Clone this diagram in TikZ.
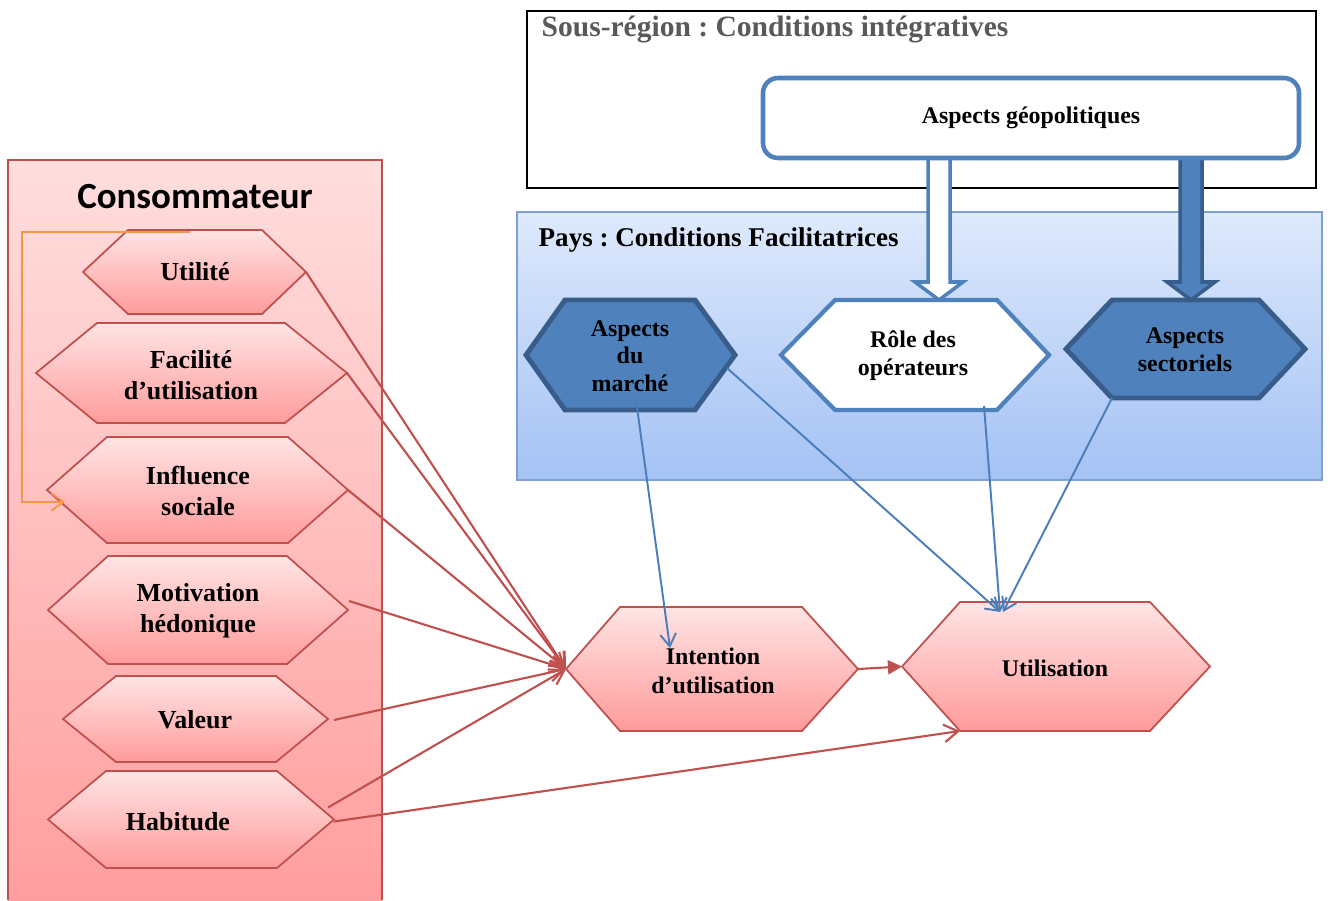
\documentclass[tikz,border=0pt]{standalone}
\usepackage{fontspec}
\setmainfont{Liberation Serif}
\newfontfamily\calfont{Carlito}
\usetikzlibrary{arrows.meta, calc}
\frenchspacing

\definecolor{RedLine}{RGB}{192,80,77}
\definecolor{PinkTop}{RGB}{255,228,228}
\definecolor{PinkBot}{RGB}{255,155,155}
\definecolor{BoxTop}{RGB}{255,222,222}
\definecolor{BoxBot}{RGB}{255,158,158}
\definecolor{BlueFill}{RGB}{79,129,189}
\definecolor{BlueDark}{RGB}{56,93,138}
\definecolor{BlueLine}{RGB}{74,126,187}
\definecolor{PaysTop}{RGB}{222,233,252}
\definecolor{PaysBot}{RGB}{164,194,244}
\definecolor{PaysEdge}{RGB}{126,161,211}
\definecolor{OrangeLine}{RGB}{247,150,70}
\definecolor{TitleGray}{RGB}{89,89,89}

% hexagon: style, name, left x, top-left x, top-right x, right x, top y, bottom y
\newcommand{\Hexa}[8]{%
  \path[#1] (#3,{(#7+#8)/2}) -- (#4,#7) -- (#5,#7) -- (#6,{(#7+#8)/2}) -- (#5,#8) -- (#4,#8) -- cycle;
  \coordinate (#2-w) at (#3,{(#7+#8)/2});
  \coordinate (#2-e) at (#6,{(#7+#8)/2});
  \coordinate (#2-nw) at (#4,#7);
  \coordinate (#2-ne) at (#5,#7);
  \coordinate (#2-sw) at (#4,#8);
  \coordinate (#2-se) at (#5,#8);
  \coordinate (#2-n) at ({(#4+#5)/2},#7);
  \coordinate (#2-s) at ({(#4+#5)/2},#8);
}

\tikzset{
  pinkhex/.style={draw=RedLine, line width=0.5pt, top color=PinkTop, bottom color=PinkBot},
  bluehex/.style={draw=BlueDark, line width=1.4pt, fill=BlueFill},
  whitehex/.style={draw=BlueFill, line width=1.2pt, fill=white},
  lbl/.style={font=\bfseries\fontsize{7.4}{8.8}\selectfont, align=center, inner sep=0pt},
  lbls/.style={font=\bfseries\fontsize{6.8}{8}\selectfont, align=center, inner sep=0pt},
  boxtitle/.style={font=\bfseries\fontsize{7.7}{9}\selectfont, anchor=west, inner sep=0pt},
  redarrow/.style={draw=RedLine, line width=0.6pt, -{Straight Barb[length=4pt,width=5pt]}},
  bluearrow/.style={draw=BlueLine, line width=0.55pt, -{Straight Barb[length=3.5pt,width=4.5pt]}},
}

\begin{document}
\begin{tikzpicture}[x=0.1mm, y=-0.1mm]
    \useasboundingbox (0,0) rectangle (1330,900);

    % Consommateur
    \fill[top color=BoxTop, bottom color=BoxBot] (8,160) rectangle (382,900);
    \draw[RedLine, line width=0.6pt] (8,900) -- (8,160) -- (382,160) -- (382,900);
    \node[font=\calfont\bfseries\fontsize{10.5}{12}\selectfont, inner sep=0pt] (cons) at (195,197) {Consommateur};

    \Hexa{pinkhex}{util}{83}{128}{262}{306}{230}{314}
    \Hexa{pinkhex}{fac}{36}{97}{285}{347}{323}{423}
    \Hexa{pinkhex}{infl}{47}{107}{288}{348}{437}{543}
    \Hexa{pinkhex}{mot}{48}{108}{287}{348}{556}{664}
    \Hexa{pinkhex}{val}{63}{116}{276}{328}{676}{762}
    \Hexa{pinkhex}{hab}{48}{106}{277}{334}{771}{868}
    \node[lbl] (utilite) at (195,272) {Utilité};
    \node[lbl] (facilite) at (191,375) {Facilité\\d’utilisation};
    \node[lbl] (influence) at (198,491) {Influence\\sociale};
    \node[lbl] (motivation) at (198,611) {Motivation\\hédonique};
    \node[lbl] (valeur) at (195,720) {Valeur};
    \node[lbl] (habitude) at (178,822) {Habitude};

    % Sous-region
    \draw[black, line width=0.6pt] (527,11) rectangle (1316,188);
    \node[boxtitle, font=\bfseries\fontsize{8.4}{10}\selectfont, text=TitleGray] (sregion) at (541,30) {Sous-région : Conditions intégratives};

    % Pays
    \draw[PaysEdge, line width=0.6pt, top color=PaysTop, bottom color=PaysBot] (517,212) rectangle (1322,480);
    \node[boxtitle] (pays) at (538,240) {Pays : Conditions Facilitatrices};

    \draw[BlueFill, line width=1pt, fill=white] (928,150) -- (928,282) -- (915,282) -- (939,300) -- (963,282) -- (950,282) -- (950,150) -- cycle;
    \draw[BlueDark, line width=1pt, fill=BlueFill] (1180,150) -- (1180,282) -- (1167,282) -- (1191,300) -- (1215,282) -- (1202,282) -- (1202,150) -- cycle;
    \node[draw=BlueFill, line width=1.3pt, fill=white, rounded corners=0.15cm,
          minimum width=5.36cm, minimum height=0.8cm, lbls] (geo) at (1031,118) {Aspects géopolitiques};

    \Hexa{bluehex}{marche}{526}{565}{695}{735}{300}{410}
    \Hexa{whitehex}{role}{781}{835}{997}{1049}{300}{410}
    \Hexa{bluehex}{sect}{1066}{1112}{1259}{1305}{300}{398}
    \node[lbls, font=\bfseries\fontsize{6.8}{7.8}\selectfont] (marchelbl) at (630,356) {Aspects\\du\\marché};
    \node[lbls] (rolelbl) at (913,356) {Rôle des\\opérateurs};
    \node[lbls] (sectlbl) at (1185,350) {Aspects\\sectoriels};

    % Intention / Utilisation
    \Hexa{pinkhex}{int}{566}{620}{802}{858}{607}{731}
    \Hexa{pinkhex}{use}{902}{960}{1150}{1210}{602}{731}
    \node[lbls, font=\bfseries\fontsize{6.8}{8.2}\selectfont] (intention) at (713,671) {Intention\\d’utilisation};
    \node[lbls] (utilisation) at (1055,668) {Utilisation};

    \draw[redarrow] (util-e) -- (int-w);
    \draw[redarrow] (fac-e) -- (int-w);
    \draw[redarrow] (infl-e) -- (int-w);
    \draw[redarrow] ($(mot-e)+(1,-9)$) -- (int-w);
    \draw[redarrow] ($(val-e)+(6,1)$) -- (int-w);
    \draw[redarrow] ($(hab-e)+(-6,-12)$) -- (int-w);
    \draw[redarrow] ($(hab-e)+(0,2)$) -- (use-sw);
    \draw[RedLine, line width=0.6pt, -{Triangle[length=4pt,width=4pt]}] (int-e) -- (use-w);

    \draw[bluearrow] ($(marche-s)+(6,-10)$) -- ($(int-n)+(-41,41)$);
    \draw[bluearrow] ($(marche-e)+(-8,13)$) -- ($(use-n)+(-55,10)$);
    \draw[bluearrow] ($(role-se)+(-13,-4)$) -- ($(use-n)+(-55,10)$);
    \draw[bluearrow] (sect-sw) -- ($(use-n)+(-52,10)$);

    \draw[OrangeLine, line width=0.5pt, -{Straight Barb[length=3.5pt,width=5pt]}] ($(util-n)+(-5,2)$) -- ++(-168,0) |- ($(infl-w)+(18,12)$);
\end{tikzpicture}
\end{document}
